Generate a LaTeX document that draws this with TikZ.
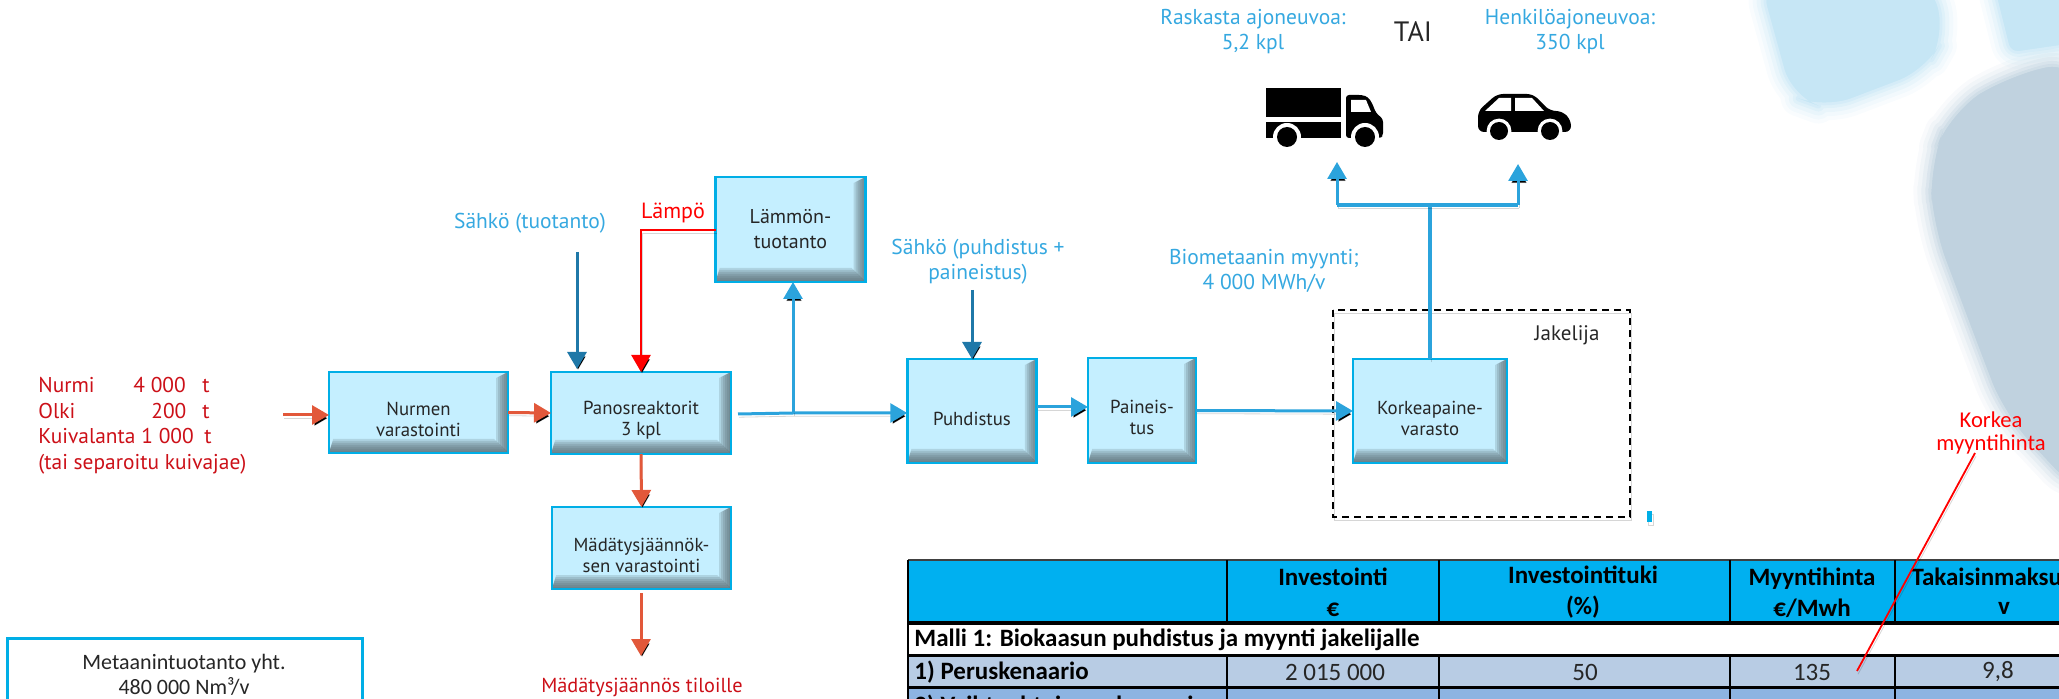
\documentclass[tikz,border=0pt]{standalone}
\usepackage{fontspec}
\setmainfont{PT Sans}
\newfontfamily\carl{Carlito}
\usetikzlibrary{arrows.meta}
\definecolor{boxfill}{HTML}{C5EFFF}
\definecolor{boxline}{HTML}{00AEE6}
\definecolor{boxgray}{HTML}{56686F}
\definecolor{orangeline}{HTML}{E2583A}
\definecolor{lightline}{HTML}{2BA3DC}
\definecolor{darkline}{HTML}{1F78A8}
\definecolor{labelblue}{HTML}{35A8E0}
\definecolor{inred}{HTML}{CC1018}
\definecolor{blobblue}{HTML}{C6E6F5}
\definecolor{blobgray}{HTML}{C0D2DF}
\definecolor{headfill}{HTML}{00B0F0}
\definecolor{rowa}{HTML}{B8CCE4}
\definecolor{rowb}{HTML}{8DB4E2}
\tikzset{
  shadowed/.style={preaction={draw=black,draw opacity=.16,transform canvas={shift={(.5pt,-1.6pt)}}}},
  flow/.style={shadowed,line width=1.5pt,-{Triangle[length=8.5pt,width=9.5pt]}},
  orangeflow/.style={flow,draw=orangeline},
  lightflow/.style={flow,draw=lightline},
  darkflow/.style={flow,draw=darkline},
  redflow/.style={flow,draw=red,line width=1.3pt},
  stagebox/.style={draw=boxline,line width=1.4pt,fill=boxfill,align=center,inner sep=0pt,outer sep=0pt,
    text=black!85,font=\fontsize{9.4}{10.6}\selectfont,
    path picture={
      \foreach \k in {1,...,6}{
        \fill[boxgray,opacity=.2]
          (path picture bounding box.north east) -- (path picture bounding box.south east)
          -- ([shift={(-\k pt,\k pt)}]path picture bounding box.south east) -- ([shift={(-\k pt,-.5*\k pt)}]path picture bounding box.north east) -- cycle;
      }
      \foreach \k in {1,...,7}{
        \fill[boxgray,opacity=.2]
          (path picture bounding box.south west) -- (path picture bounding box.south east)
          -- ([shift={(-\k pt,\k pt)}]path picture bounding box.south east) -- ([shift={(.3*\k pt,\k pt)}]path picture bounding box.south west) -- cycle;
      }
    }},
  labeltext/.style={text=labelblue,align=center,font=\fontsize{10.75}{12.5}\selectfont,inner sep=0pt},
  redtext/.style={text=inred,font=\fontsize{10.7}{12.75}\selectfont,inner sep=0pt},
  tabletext/.style={font=\carl\bfseries\fontsize{12.5}{15.5}\selectfont,inner sep=0pt,text=black},
  tablevalue/.style={font=\carl\fontsize{12.5}{15}\selectfont,inner sep=0pt,text=black!85},
  gridline/.style={draw=black,line width=1.1pt},
}
\begin{document}
\begin{tikzpicture}[x=0.5pt,y=-0.5pt]
\useasboundingbox (0,0) rectangle (2059,699);
\clip (0,0) rectangle (2059,699);
% soft background shapes
\foreach \w/\o in {18pt/.1,14pt/.14,10pt/.2,6pt/.3,3pt/.4}{
  \draw[blobblue,line width=\w,opacity=\o,fill=blobblue,rounded corners=14pt,line join=round]
    (1760,-20) -- (1792,96) -- (1825,108) -- (1925,70) -- (1945,35) -- (1930,-20) -- cycle;
  \draw[blobblue,line width=\w,opacity=\o,fill=blobblue,rounded corners=4pt,line join=round]
    (1993,-20) -- (2011,52) -- (2080,42) -- (2080,-20) -- cycle;
  \draw[blobgray,line width=\w,opacity=\o,fill=blobgray,rounded corners=18pt,line join=round]
    (2080,60) -- (2008,76) -- (1950,113) -- (1930,165) -- (1933,225) -- (1980,350) -- (2005,415) -- (2080,495) -- cycle;
}
\fill[blobblue,rounded corners=14pt]
    (1760,-20) -- (1792,96) -- (1825,108) -- (1925,70) -- (1945,35) -- (1930,-20) -- cycle;
\fill[blobblue,rounded corners=4pt]
    (1993,-20) -- (2011,52) -- (2080,42) -- (2080,-20) -- cycle;
\fill[blobgray,rounded corners=18pt]
    (2080,60) -- (2008,76) -- (1950,113) -- (1930,165) -- (1933,225) -- (1980,350) -- (2005,415) -- (2080,495) -- cycle;

% dashed distributor frame
\draw[shadowed,black,line width=1.2pt,dash pattern=on 3.5pt off 2.5pt] (1333,310) rectangle (1630,517);
\node[font=\fontsize{10.5}{12}\selectfont,inner sep=0pt,text=black!85] (jakelija) at (1567,335) {Jakelija};

% process boxes
\node[stagebox,minimum width=89.5pt,minimum height=40.5pt] (nurmen) at (418.5,412.5) {\\[3.2pt]Nurmen\\varastointi};
\node[stagebox,minimum width=90pt,minimum height=41pt] (panos) at (641,413) {\\[3.2pt]Panosreaktorit\\3 kpl};
\node[stagebox,minimum width=89.5pt,minimum height=41pt] (mad) at (641.5,548) {\\[3.2pt]Mädätysjäännök-\\sen varastointi};
\node[stagebox,minimum width=75pt,minimum height=52.5pt,font=\fontsize{10}{12.5}\selectfont] (lammon) at (790.5,229.5) {Lämmön-\\tuotanto};
\node[stagebox,minimum width=64.75pt,minimum height=52pt] (puhdistus) at (972,411) {\rule{0pt}{14.5pt}Puhdistus};
\node[stagebox,minimum width=54pt,minimum height=52.5pt] (paineistus) at (1142,410.5) {\\[3.2pt]Paineis-\\tus};
\node[stagebox,minimum width=77pt,minimum height=52pt] (korkeap) at (1430,411) {\\[3.2pt]Korkeapaine-\\varasto};

% free connector ends
\coordinate (infeed) at (283,415);
\coordinate (madout) at (641,593);
\coordinate (madend) at (641,656);
\coordinate (elec1) at (577,252);
\coordinate (elec1end) at (577,369);
\coordinate (elec2) at (972,290);
\coordinate (panosout) at (738,414);
\coordinate (branch) at (793,413);
\coordinate (pu1) at (1037,407);
\coordinate (pa1) at (1088,407);
\coordinate (tee) at (1430,205);
\coordinate (teeleft) at (1337,205);
\coordinate (teeright) at (1518,205);
\coordinate (truckend) at (1337,162);
\coordinate (carend) at (1518,164);
\coordinate (redbend) at (641,230);

% connectors
\draw[orangeflow] (infeed) -- (infeed -| nurmen.west);
\draw[orangeflow] (nurmen.east) -- (panos.west);
\draw[orangeflow] (panos.south) -- (mad.north);
\draw[orangeflow] (madout) -- (madend);
\draw[darkflow] (elec1) -- (elec1end);
\draw[redflow] (redbend -| lammon.west) -- (redbend) -- (panos.north);
\draw[lightflow] (panosout) -- (branch) -- (branch -| puhdistus.west);
\draw[lightflow] (branch) -- (branch |- lammon.south);
\draw[darkflow] (elec2) -- (puhdistus.north);
\draw[lightflow] (pu1) -- (pa1);
\draw[lightflow] (paineistus.east) -- (korkeap.west);
\draw[shadowed,lightline,line width=1.6pt] (korkeap.north) -- (tee);
\draw[lightflow] (teeleft) -- (truckend);
\draw[lightflow] (teeright) -- (carend);
\draw[shadowed,lightline,line width=1.9pt,line cap=square] (teeleft) -- (teeright);
\fill[shadowed,boxline] (1647,511) rectangle (1652,522);

% truck
\fill[black] (1266,88) rectangle (1341,117);
\fill[black] (1266,122) rectangle (1341,138);
\fill[black,rounded corners=1.5pt] (1346,138) -- (1346,95) -- (1362,95) -- (1368,97) -- (1372,103) -- (1376,113) -- (1383,119) -- (1383,136) -- (1380,138) -- cycle;
\fill[white] (1351,100) -- (1366,100) -- (1371,112) -- (1351,112) -- cycle;
\fill[white] (1287,137) circle (7pt) (1365,137) circle (7pt);
\fill[white] (1270,139) rectangle (1304,146) (1348,139) rectangle (1382,146);
\fill[black] (1287,137) circle (5pt) (1365,137) circle (5pt);

% car
\fill[black,rounded corners=3pt] (1497,94) -- (1533,94) -- (1550,111) -- (1562,111) -- (1571,120) -- (1571,132) -- (1478,132) -- (1478,111) -- cycle;
\fill[white] (1485,111) -- (1499,98) -- (1511,98) -- (1511,111) -- cycle;
\fill[white] (1515,98) -- (1532,98) -- (1544,111) -- (1515,111) -- cycle;
\fill[white] (1499,131) circle (6.2pt) (1550,131) circle (6.2pt);
\fill[black] (1499,131) circle (4.5pt) (1550,131) circle (4.5pt);

% labels
\node[labeltext] (raskas) at (1253,32) {Raskasta ajoneuvoa:\\5,2 kpl};
\node[font=\fontsize{14}{16}\selectfont,inner sep=0pt,text=black!85] (tai) at (1413,32) {TAI};
\node[labeltext] (henkilo) at (1570,32) {Henkilöajoneuvoa:\\350 kpl};
\node[labeltext] (biomet) at (1264,271) {Biometaanin myynti;\\4 000 MWh/v};
\node[labeltext] (sahko1) at (530,223) {Sähkö (tuotanto)};
\node[labeltext] (sahko2) at (978,262) {Sähkö (puhdistus +\\paineistus)};
\node[redtext,text=red,font=\fontsize{11}{13}\selectfont] (lampo) at (673,213) {Lämpö};
\node[redtext,align=left,anchor=west] (syote) at (38,425.5) {\makebox[47.5pt][l]{Nurmi}\makebox[34.5pt][l]{4 000}t\\
\makebox[56.5pt][l]{Olki}\makebox[25.5pt][l]{200}t\\
\makebox[51.5pt][l]{Kuivalanta}\makebox[31.5pt][l]{1 000}t\\
(tai separoitu kuivajae)};
\node[redtext,font=\fontsize{10.15}{12}\selectfont] (madlabel) at (642,687) {Mädätysjäännös tiloille};

% production box
\draw[boxline,line width=1.5pt] (7,720) -- (7,638) -- (362,638) -- (362,720);
\node[font=\carl\fontsize{11}{12.5}\selectfont,align=center,inner sep=0pt,text=black!85] (metaani) at (184,674.5) {Metaanintuotanto yht.\\480 000 Nm³/v};

% table
\fill[headfill] (908,560) rectangle (2080,623);
\fill[white] (908,623) rectangle (2080,655);
\fill[rowa] (908,655) rectangle (2080,687);
\fill[rowb] (908,687) rectangle (2080,720);
\draw[black!75,line width=1.1pt] (908,560) -- (2080,560);
\draw[gridline,line width=1.6pt] (908,623) -- (2080,623);
\draw[gridline,line width=1.5pt] (908,655) -- (2080,655);
\draw[gridline,line width=1.5pt] (908,687) -- (2080,687);
\draw[gridline] (908,560) -- (908,720);
\foreach \cx in {1227,1439,1730,1895}{
  \draw[gridline] (\cx,560) -- (\cx,623);
  \draw[gridline] (\cx,655) -- (\cx,720);
}
\node[tabletext,align=center] (h1) at (1333,592.5) {Investointi\\€};
\node[tabletext,align=center] (h2) at (1583,592.5) {Investointituki\\(\%)};
\node[tabletext,align=center] (h3) at (1812,592.5) {Myyntihinta\\€/Mwh};
\node[tabletext] (h4) at (2008,577) {Takaisinmaksuaika};
\node[tabletext] (h4b) at (2004,608) {v};
\node[tabletext,anchor=west] (malli) at (914,640) {Malli 1: Biokaasun puhdistus ja myynti jakelijalle};
\node[tabletext,anchor=west] (r1) at (914,672) {1) Peruskenaario};
\node[tablevalue] (r1a) at (1335,672) {2 015 000};
\node[tablevalue] (r1b) at (1585,672) {50};
\node[tablevalue] (r1c) at (1812,672) {135};
\node[tablevalue] (r1d) at (1998,672) {9,8};
\node[tabletext,anchor=west] (r2) at (914,706) {2) Vaihtoehtoinen skenaario};

% callout
\node[font=\carl\fontsize{11.3}{11.5}\selectfont,align=center,inner sep=0pt,text=red] (korkea) at (1991,432.5) {Korkea\\myyntihinta};
\coordinate (calloutend) at (1857,671);
\coordinate (calloutstart) at (1975,453);
\draw[shadowed,red,line width=.9pt] (calloutstart) -- (calloutend);
\end{tikzpicture}
\end{document}
